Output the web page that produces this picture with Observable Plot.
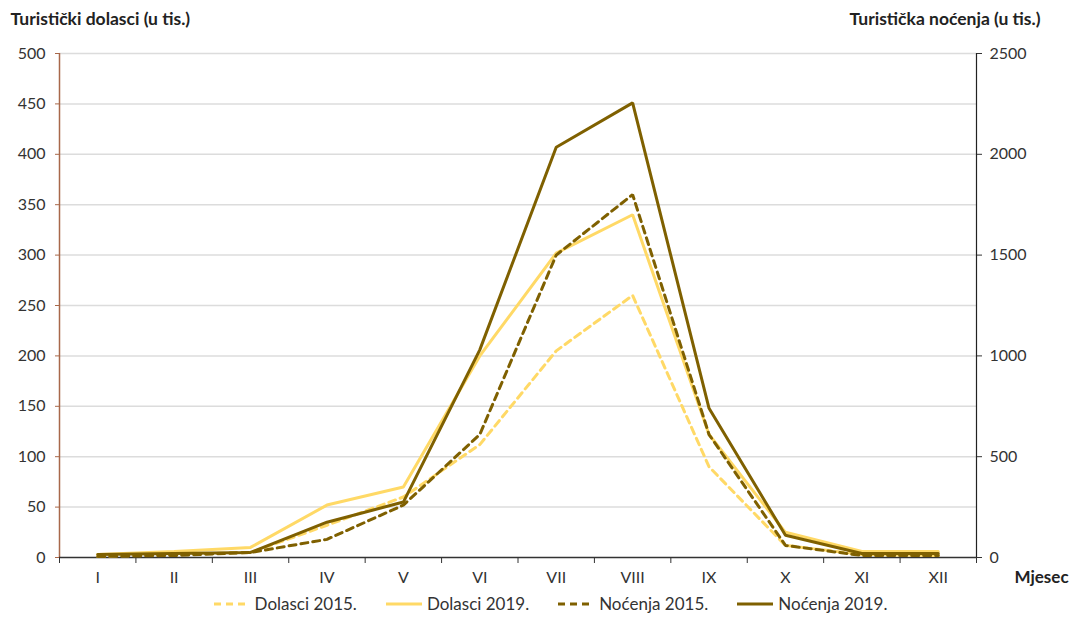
<!DOCTYPE html>
<html>
<head>
<meta charset="utf-8">
<script src="https://cdn.jsdelivr.net/npm/d3@7"></script>
<script src="https://cdn.jsdelivr.net/npm/@observablehq/plot@0.6"></script>
<style>
  html, body { margin: 0; padding: 0; background: #fff; }
  body { width: 1072px; height: 617px; overflow: hidden; font-family: Lato, "Open Sans", sans-serif; }
  #legend { display: flex; justify-content: center; align-items: center; gap: 28px; font-size: 17px; color: #333; margin-left: 28px; height: 27px; }
  .item { display: flex; align-items: center; gap: 4px; }
</style>
</head>
<body>
<div id="chart"></div>
<div id="legend"></div>
<script>
const months = ["I", "II", "III", "IV", "V", "VI", "VII", "VIII", "IX", "X", "XI", "XII"];
const dolasci2015 = [1, 3, 5, 32, 60, 112, 205, 260, 90, 12, 3, 2];
const dolasci2019 = [3, 6, 10, 52, 70, 200, 302, 340, 122, 25, 6, 6];
const nocenja2015 = [5, 10, 25, 90, 260, 610, 1500, 1800, 610, 60, 10, 10];
const nocenja2019 = [15, 20, 25, 175, 275, 1030, 2035, 2255, 740, 110, 20, 20];
const leftTicks = [0, 50, 100, 150, 200, 250, 300, 350, 400, 450, 500];
const rightTicks = [0, 500, 1000, 1500, 2000, 2500];
const ratio = 5; // right axis / left axis

const yellow = "#FFD966";
const dark = "#7F6000";

const series = [
  {name: "Dolasci 2015.", values: dolasci2015, scale: 1, color: yellow, dash: "7,5"},
  {name: "Dolasci 2019.", values: dolasci2019, scale: 1, color: yellow, dash: null},
  {name: "Noćenja 2015.", values: nocenja2015, scale: ratio, color: dark, dash: "7,5"},
  {name: "Noćenja 2019.", values: nocenja2019, scale: ratio, color: dark, dash: null}
];

const rows = s => s.values.map((v, i) => ({i, v: v / s.scale}));
const boundaries = d3.range(13).map(k => k - 0.5);

const chart = Plot.plot({
  width: 1072,
  height: 590,
  marginTop: 53,
  marginBottom: 33,
  marginLeft: 59,
  marginRight: 96,
  style: {fontFamily: "Lato, 'Open Sans', sans-serif", fontSize: "16px", color: "#333", background: "#fff"},
  x: {type: "linear", domain: [-0.5, 11.5]},
  y: {domain: [0, 500]},
  marks: [
    Plot.ruleY(leftTicks.slice(1), {stroke: "#dcdcdc", strokeWidth: 1.5}),
    Plot.axisY({ticks: leftTicks, tickSize: 4, tickPadding: 10, label: null, stroke: "#a8684a"}),
    Plot.axisY({anchor: "right", ticks: rightTicks.map(v => v / ratio), tickFormat: d => String(d * ratio), tickSize: 5, tickPadding: 8, label: null}),
    Plot.axisX({ticks: boundaries, tickFormat: () => "", tickSize: 6, label: null}),
    Plot.axisX({ticks: d3.range(12), tickFormat: i => months[i], tickSize: 0, tickPadding: 14, label: null}),
    Plot.ruleX([-0.5], {stroke: "#a8684a", strokeWidth: 1.5}),
    Plot.ruleX([11.5], {stroke: "#222", strokeWidth: 1.2}),
    Plot.ruleY([0], {stroke: "#333", strokeWidth: 1.5}),
    ...series.map(s => Plot.line(rows(s), {x: "i", y: "v", stroke: s.color, strokeWidth: 3, strokeDasharray: s.dash, strokeLinejoin: "miter"})),
    Plot.text(["Turistički dolasci (u tis.)"], {frameAnchor: "top-left", textAnchor: "start", lineAnchor: "middle", dx: -49, dy: -34, fontWeight: "bold", fontSize: 17.5, fill: "#222"}),
    Plot.text(["Turistička noćenja (u tis.)"], {frameAnchor: "top-right", textAnchor: "end", lineAnchor: "middle", dx: 64, dy: -34, fontWeight: "bold", fontSize: 17.5, fill: "#222"}),
    Plot.text(["Mjesec"], {frameAnchor: "bottom-right", textAnchor: "start", lineAnchor: "middle", dx: 38, dy: 20, fontWeight: "bold", fontSize: 17, fill: "#222"})
  ]
});
document.getElementById("chart").appendChild(chart);

const legend = d3.select("#legend");
for (const s of series) {
  const item = legend.append("div").attr("class", "item");
  const svg = item.append("svg").attr("width", 38).attr("height", 10);
  svg.append("line").attr("x1", 1).attr("x2", 37).attr("y1", 5).attr("y2", 5)
    .attr("stroke", s.color).attr("stroke-width", 3).attr("stroke-dasharray", s.dash);
  item.append("span").text(s.name);
}
</script>
</body>
</html>
